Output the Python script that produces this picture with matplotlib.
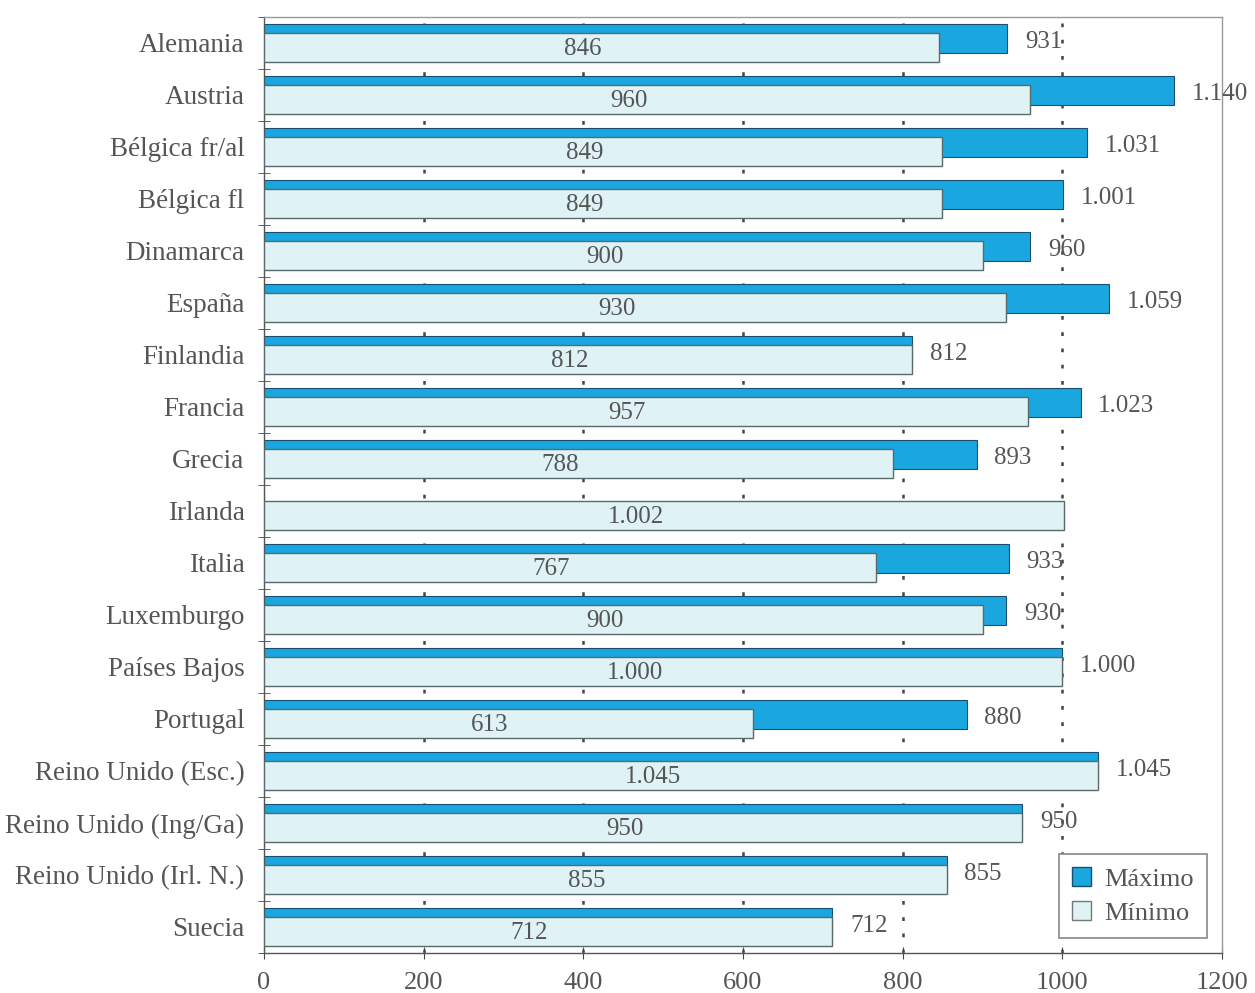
import numpy as np
import matplotlib
matplotlib.use("Agg")
import matplotlib.pyplot as plt
from matplotlib.patches import Patch

categories = ["Alemania", "Austria", "Bélgica fr/al", "Bélgica fl", "Dinamarca",
              "España", "Finlandia", "Francia", "Grecia", "Irlanda", "Italia",
              "Luxemburgo", "Países Bajos", "Portugal", "Reino Unido (Esc.)",
              "Reino Unido (Ing/Ga)", "Reino Unido (Irl. N.)", "Suecia"]
maximo = [931, 1140, 1031, 1001, 960, 1059, 812, 1023, 893, np.nan, 933,
          930, 1000, 880, 1045, 950, 855, 712]
minimo = [846, 960, 849, 849, 900, 930, 812, 957, 788, 1002, 767,
          900, 1000, 613, 1045, 950, 855, 712]
xticks = [0, 200, 400, 600, 800, 1000, 1200]

def fmt(v):
    return f"{int(v):,}".replace(",", ".")

plt.rcParams['font.family'] = ['Liberation Serif', 'DejaVu Serif']
txt = '#555555'

fig = plt.figure(figsize=(12.55, 9.93), dpi=100)
ax = fig.add_axes([0.2104, 0.0403, 0.9737 - 0.2104, 0.9829 - 0.0403])

y = np.arange(len(categories))
h = 0.56
off = 0.087
blue = '#1aa6df'
light = '#dff2f5'

for xv in xticks[1:-1]:
    ax.axvline(xv, color='#444444', lw=1.8, ls=(0, (1.5, 5)), zorder=0)

mx = np.array(maximo, dtype=float)
mn = np.array(minimo, dtype=float)
ax.barh(y - off, np.nan_to_num(mx), height=h, color=blue, edgecolor='#1b4f72',
        linewidth=0.8, zorder=2)
ax.barh(y + off, mn, height=h, color=light, edgecolor='#5a6a6a',
        linewidth=1.0, zorder=3)

for i in range(len(categories)):
    if not np.isnan(mx[i]):
        ax.text(mx[i] + 22, y[i] - off + 0.06, fmt(mx[i]), ha='left', va='center',
                fontsize=18, color=txt, zorder=5)
    ax.text(mn[i] / 2, y[i] + off + 0.02, fmt(mn[i]), ha='right', va='center',
            fontsize=18, color=txt, zorder=5)

ax.set_xlim(0, 1200)
ax.set_ylim(len(categories) - 0.5, -0.5)
ax.set_xticks(xticks)
ax.set_xticklabels([str(t) for t in xticks], fontsize=19, color=txt)
ax.set_yticks(y)
ax.set_yticklabels(categories, fontsize=19.5, color=txt)
ax.set_yticks(np.arange(len(categories) + 1) - 0.5, minor=True)
ax.tick_params(axis='y', which='major', length=0, pad=14)
ax.tick_params(axis='y', which='minor', length=8, direction='inout', color='#444444')
ax.tick_params(axis='x', which='major', length=8, direction='inout', color='#444444', pad=10)

for s in ['top', 'right']:
    ax.spines[s].set_color('#999999')
    ax.spines[s].set_linewidth(1.0)
for s in ['left', 'bottom']:
    ax.spines[s].set_color('#555555')
    ax.spines[s].set_linewidth(1.0)

handles = [Patch(facecolor=blue, edgecolor='#1b4f72', label='Máximo'),
           Patch(facecolor=light, edgecolor='#777777', label='Mínimo')]
leg = ax.legend(handles=handles, loc='lower right', bbox_to_anchor=(0.984, 0.016),
                borderaxespad=0, fontsize=19, frameon=True, fancybox=False,
                edgecolor='#888888', framealpha=1,
                handlelength=0.7, handleheight=0.7, handletextpad=0.5,
                borderpad=0.5, labelspacing=0.4, labelcolor=txt)
leg.get_frame().set_linewidth(1.2)

fig.savefig('out.png', dpi=100)
